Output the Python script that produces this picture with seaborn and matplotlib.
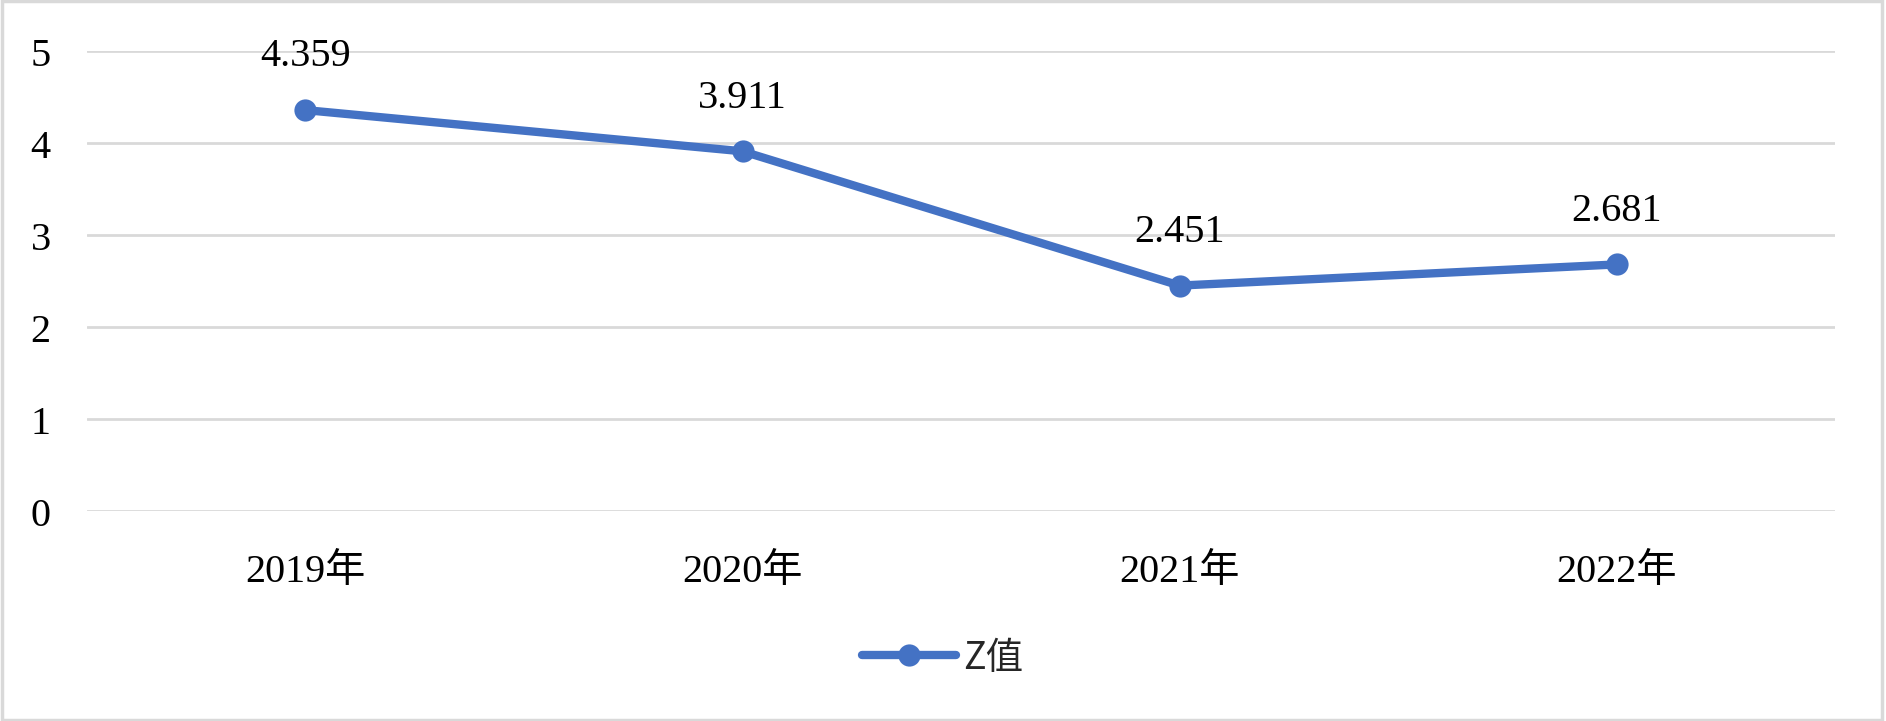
import pandas as pd
import matplotlib.pyplot as plt
import seaborn as sns
from matplotlib.patches import Rectangle

years = ["2019年", "2020年", "2021年", "2022年"]
z_values = [4.359, 3.911, 2.451, 2.681]
y_ticks = [0, 1, 2, 3, 4, 5]

df = pd.DataFrame({"年份": years, "Z值": z_values})

sns.set_theme(style="white")
plt.rcParams["font.family"] = ["Liberation Serif", "Noto Sans CJK SC"]

blue = "#4472C4"
grid_col = "#D9D9D9"

fig = plt.figure(figsize=(18.86, 7.219), dpi=100)
ax = fig.add_axes([0.0461, 0.2909, 0.927, 0.637])

sns.lineplot(data=df, x="年份", y="Z值", ax=ax, color=blue, linewidth=6,
             marker="o", markersize=16, markeredgewidth=0, label="Z值",
             legend=False)

ax.set_xlim(-0.5, len(years) - 0.5)
ax.set_ylim(0, 5)
ax.set_yticks(y_ticks)
ax.set_yticklabels([str(t) for t in y_ticks])
ax.yaxis.grid(True, color=grid_col, linewidth=2)
ax.set_axisbelow(True)
for s in ax.spines.values():
    s.set_visible(False)
ax.set_xlabel("")
ax.set_ylabel("")
ax.tick_params(axis="y", labelsize=29, pad=26, length=0)
ax.tick_params(axis="x", labelsize=29, pad=30, length=0)
for lab in ax.get_xticklabels() + ax.get_yticklabels():
    lab.set_color("black")

for i, v in enumerate(z_values):
    ax.annotate(f"{v:.3f}", (i, v), xytext=(0, 39), textcoords="offset points",
                ha="center", va="center", fontsize=29, color="black")

h = [plt.Line2D([], [], color=blue, linewidth=6, marker="o", markersize=16,
                markeredgewidth=0, solid_capstyle="round")]
fig.legend(h, ["Z值"], loc="center", bbox_to_anchor=(0.5, 0.088), frameon=False,
           prop={"family": ["Noto Sans CJK SC"], "size": 27},
           handlelength=2.5, handletextpad=0.2)

fig.patches.append(Rectangle((0.001, 0.002), 0.997, 0.996, transform=fig.transFigure,
                             fill=False, edgecolor="#D9D9D9", linewidth=2.5))

fig.savefig("out.png", dpi=100, facecolor="white")
